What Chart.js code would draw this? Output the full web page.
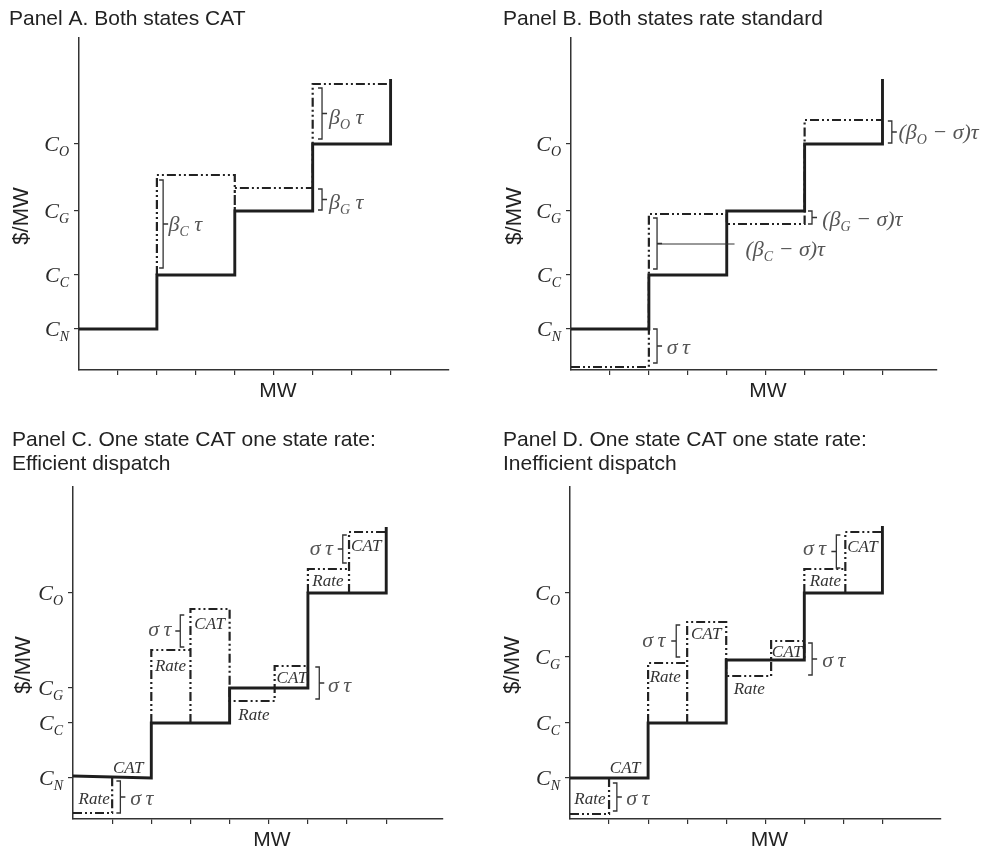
<!DOCTYPE html>
<html>
<head>
<meta charset="utf-8">
<script src="https://cdn.jsdelivr.net/npm/chart.js@4.4.1/dist/chart.umd.min.js"></script>
<style>
  body { margin: 0; background: #fff; }
  canvas { position: absolute; }
</style>
</head>
<body>
<canvas id="panelA" width="494" height="420" style="left:0;top:0"></canvas>
<canvas id="panelB" width="494" height="420" style="left:494px;top:0"></canvas>
<canvas id="panelC" width="494" height="429" style="left:0;top:420px"></canvas>
<canvas id="panelD" width="494" height="429" style="left:494px;top:420px"></canvas>
<script>
// cost levels on the $/MW axis (schematic units), one per technology
var costNames = ['N', 'C', 'G', 'O'];
var costAB = [41, 95, 159, 226];
var costC = [41, 96, 131, 226];
var costD = [41, 96, 162, 226];
var mwTicks = [1, 2, 3, 4, 5, 6, 7, 8];

// Panel A: supply curve and CAT-shifted curve
var aSolidX = [0, 2, 2, 4, 4, 6, 6, 8, 8];
var aSolidY = [41, 41, 95, 95, 159, 159, 226, 226, 291];
var aCatX = [2, 2, 4, 4, 4, 6, 6, 8];
var aCatY = [95, 195, 195, 159, 182, 182, 286, 286];

// Panel B: supply curve and rate-standard curve
var bSolidX = [0, 2, 2, 4, 4, 6, 6, 8, 8];
var bSolidY = [41, 41, 95, 95, 159, 159, 226, 226, 291];
var bRateX = [0, 2, 2, 4, 4, 6, 6, 8];
var bRateY = [3, 3, 156, 156, 146, 146, 250, 250];

// Panel C: efficient dispatch
var cSolidX = [0, 2, 2, 4, 4, 6, 6, 8, 8];
var cSolidY = [43, 41, 96, 96, 131, 131, 226, 226, 292];
var cRate1X = [0, 1, 1], cRate1Y = [6, 6, 41];
var cRate2X = [2, 2, 3], cRate2Y = [96, 169, 169];
var cCat2X = [3, 3, 4, 4], cCat2Y = [96, 210, 210, 131];
var cRate3X = [4, 4, 5.15, 5.15, 6, 6], cRate3Y = [131, 118, 118, 153, 153, 131];
var cRate4X = [6, 6, 7.05], cRate4Y = [226, 250, 250];
var cCat4X = [7.05, 7.05, 8], cCat4Y = [226, 287, 287];

// Panel D: inefficient dispatch
var dSolidX = [0, 2, 2, 4, 4, 6, 6, 8, 8];
var dSolidY = [41, 41, 96, 96, 159, 159, 226, 226, 293];
var dRate1X = [0, 1, 1], dRate1Y = [5, 5, 41];
var dRate2X = [2, 2, 3], dRate2Y = [96, 156, 156];
var dCat2X = [3, 3, 4, 4], dCat2Y = [96, 197, 197, 159];
var dRate3X = [4, 4, 5.15, 5.15, 6, 6], dRate3Y = [159, 143, 143, 178, 178, 159];
var dRate4X = [6, 6, 7.05], dRate4Y = [226, 250, 250];
var dCat4X = [7.05, 7.05, 8], dCat4Y = [226, 287, 287];

// brackets: x, y from, y to, side of the small tick (1 right, -1 left)
var aBraces = [[2.16, 102, 190, 1], [6.24, 160, 181, 1], [6.24, 231, 282, 1]];
var bBraces = [[2.21, 7, 41, 1], [2.21, 101, 152, 1], [6.19, 146, 159, 1], [8.24, 227, 249, 1]];
var bLeaders = [[2.21, 4.2, 126]];
var cBraces = [[1.21, 6, 38, 1], [2.74, 172, 204, -1], [6.29, 120, 152, 1], [6.89, 256, 284, -1]];
var dBraces = [[1.2, 8, 36, 1], [2.72, 162, 194, -1], [6.2, 144, 176, 1], [6.82, 251, 284, -1]];

// math labels: text (_X = subscript), x, y, anchor side
var aMath = [['β_C τ', 2.3, 146, 'l'], ['β_G τ', 6.42, 168, 'l'], ['β_O τ', 6.42, 253, 'l']];
var bMath = [['σ\u2009τ', 2.46, 23, 'l'], ['(β_C − σ)τ', 4.48, 121, 'l'], ['(β_G − σ)τ', 6.45, 151, 'l'], ['(β_O − σ)τ', 8.41, 238, 'l']];
var cMath = [['σ\u2009τ', 1.46, 21, 'l'], ['σ\u2009τ', 2.51, 190, 'r'], ['σ\u2009τ', 6.51, 134, 'l'], ['σ\u2009τ', 6.64, 271, 'r']];
var dMath = [['σ\u2009τ', 1.44, 21, 'l'], ['σ\u2009τ', 2.44, 179, 'r'], ['σ\u2009τ', 6.46, 159, 'l'], ['σ\u2009τ', 6.56, 271, 'r']];

// word labels: text, x centre, y centre
var cWords = [['CAT', 1.41, 52], ['Rate', 0.54, 21], ['Rate', 2.49, 154], ['CAT', 3.49, 196],
  ['CAT', 5.59, 142], ['Rate', 4.62, 105], ['Rate', 6.51, 239], ['CAT', 7.49, 274]];
var dWords = [['CAT', 1.41, 52], ['Rate', 0.51, 21], ['Rate', 2.44, 143], ['CAT', 3.49, 186],
  ['CAT', 5.56, 168], ['Rate', 4.59, 131], ['Rate', 6.54, 239], ['CAT', 7.49, 273]];

Chart.defaults.font.family = '"Liberation Sans", Arial, sans-serif';

var SERIF = '"Liberation Serif", "DejaVu Serif", serif';

function pts(xs, ys) {
  return xs.map(function (x, i) { return { x: x, y: ys[i] }; });
}

function solidLine(xs, ys) {
  return { data: pts(xs, ys), borderColor: '#1e1e1e', borderWidth: 2.9, pointRadius: 0, clip: false,
    borderJoinStyle: 'miter', borderCapStyle: 'butt' };
}

function dashLine(xs, ys) {
  return { data: pts(xs, ys), borderColor: '#222', borderWidth: 2.2, pointRadius: 0, clip: false,
    borderDash: [9, 3, 2, 3, 2, 3], borderCapStyle: 'butt' };
}

// draws "β_C τ" style text, subscripts after "_"
function drawMath(ctx, str, x, y, align, size, color) {
  var parts = [];
  for (var i = 0; i < str.length; i++) {
    if (str[i] === '_') { parts.push({ t: str[i + 1], sub: true }); i++; }
    else if (parts.length && !parts[parts.length - 1].sub) parts[parts.length - 1].t += str[i];
    else parts.push({ t: str[i], sub: false });
  }
  var subSize = Math.round(size * 0.64);
  var w = 0;
  parts.forEach(function (p) {
    ctx.font = 'italic ' + (p.sub ? subSize : size) + 'px ' + SERIF;
    p.w = ctx.measureText(p.t).width;
    w += p.w;
  });
  var cx = align === 'r' ? x - w : (align === 'c' ? x - w / 2 : x);
  var base = y + size * 0.33;
  ctx.fillStyle = color;
  ctx.textAlign = 'left';
  ctx.textBaseline = 'alphabetic';
  parts.forEach(function (p) {
    ctx.font = 'italic ' + (p.sub ? subSize : size) + 'px ' + SERIF;
    ctx.fillText(p.t, cx, p.sub ? base + size * 0.2 : base);
    cx += p.w;
  });
}

function notes(cfg) {
  return {
    id: 'notes',
    afterDraw: function (chart) {
      var ctx = chart.ctx, xs = chart.scales.x, ys = chart.scales.y, area = chart.chartArea;
      ctx.save();
      // tick labels C_N ... C_O
      cfg.costs.forEach(function (v, i) {
        drawMath(ctx, 'C_' + costNames[i], area.left - 10, ys.getPixelForValue(v), 'r', 22, '#2a2a2a');
      });
      // axis titles
      ctx.fillStyle = '#222';
      ctx.font = '21px "Liberation Sans", Arial, sans-serif';
      ctx.textAlign = 'center';
      ctx.textBaseline = 'middle';
      ctx.fillText('MW', (area.left + area.right) / 2 + 14, area.bottom + 21);
      ctx.save();
      ctx.font = '22px "Liberation Sans", Arial, sans-serif';
      ctx.translate(cfg.yTitleX, (area.top + area.bottom) / 2 + 12);
      ctx.rotate(-Math.PI / 2);
      ctx.fillText('$/MW', 0, 0);
      ctx.restore();
      // brackets
      ctx.strokeStyle = '#333';
      ctx.lineWidth = 1.3;
      (cfg.braces || []).forEach(function (b) {
        var px = xs.getPixelForValue(b[0]);
        var p1 = ys.getPixelForValue(b[1]), p2 = ys.getPixelForValue(b[2]);
        var pm = (p1 + p2) / 2, d = b[3];
        ctx.beginPath();
        ctx.moveTo(px - d * 4, p1); ctx.lineTo(px, p1); ctx.lineTo(px, p2); ctx.lineTo(px - d * 4, p2);
        ctx.moveTo(px, pm); ctx.lineTo(px + d * 5, pm);
        ctx.stroke();
      });
      ctx.lineWidth = 1;
      (cfg.leaders || []).forEach(function (l) {
        var py = ys.getPixelForValue(l[2]);
        ctx.beginPath();
        ctx.moveTo(xs.getPixelForValue(l[0]), py);
        ctx.lineTo(xs.getPixelForValue(l[1]), py);
        ctx.stroke();
      });
      (cfg.math || []).forEach(function (m) {
        drawMath(ctx, m[0], xs.getPixelForValue(m[1]), ys.getPixelForValue(m[2]), m[3], 22, '#555');
      });
      (cfg.words || []).forEach(function (m) {
        drawMath(ctx, m[0], xs.getPixelForValue(m[1]), ys.getPixelForValue(m[2]), 'c', 17, '#333');
      });
      ctx.restore();
    }
  };
}

function makePanel(id, cfg) {
  var canvas = document.getElementById(id);
  return new Chart(canvas, {
    type: 'line',
    data: { datasets: cfg.datasets },
    options: {
      responsive: false,
      animation: false,
      events: [],
      devicePixelRatio: 1,
      layout: { padding: { left: cfg.padLeft, right: cfg.padRight, top: 0, bottom: 0 } },
      plugins: {
        legend: { display: false },
        tooltip: { enabled: false },
        title: {
          display: true,
          text: cfg.title,
          align: 'start',
          color: '#222',
          font: { size: 21, weight: 'normal', lineHeight: 24 / 21 },
          padding: cfg.titlePad
        }
      },
      scales: {
        x: {
          type: 'linear', min: 0, max: cfg.xMax,
          afterBuildTicks: function (s) { s.ticks = mwTicks.map(function (v) { return { value: v }; }); },
          afterFit: function (s) { s.height = cfg.xHeight; },
          ticks: { display: false },
          grid: { drawOnChartArea: false, drawTicks: true, tickLength: 5, color: '#333', lineWidth: 1.2 },
          border: { display: true, color: '#333', width: 1.5 }
        },
        y: {
          type: 'linear', min: 0, max: 332,
          afterBuildTicks: function (s) { s.ticks = cfg.costs.map(function (v) { return { value: v }; }); },
          afterFit: function (s) { s.width = cfg.yWidth; },
          ticks: { display: false },
          grid: { drawOnChartArea: false, drawTicks: true, tickLength: 5, color: '#333', lineWidth: 1.2 },
          border: { display: true, color: '#333', width: 1.5 }
        }
      }
    },
    plugins: [notes(cfg)]
  });
}

makePanel('panelA', {
  title: 'Panel A. Both states CAT',
  titlePad: { top: 7.5, bottom: 6.5 },
  padLeft: 9, yWidth: 70, padRight: 45, xHeight: 50, xMax: 9.5, yTitleX: 22,
  costs: costAB,
  datasets: [solidLine(aSolidX, aSolidY), dashLine(aCatX, aCatY)],
  braces: aBraces, math: aMath
});

makePanel('panelB', {
  title: 'Panel B. Both states rate standard',
  titlePad: { top: 7.5, bottom: 6.5 },
  padLeft: 9, yWidth: 68, padRight: 51, xHeight: 50, xMax: 9.4, yTitleX: 21,
  costs: costAB,
  datasets: [solidLine(bSolidX, bSolidY), dashLine(bRateX, bRateY)],
  braces: bBraces, leaders: bLeaders, math: bMath
});

makePanel('panelC', {
  title: ['Panel C. One state CAT one state rate:', 'Efficient dispatch'],
  titlePad: { top: 8, bottom: 11 },
  padLeft: 12, yWidth: 61, padRight: 51, xHeight: 30, xMax: 9.45, yTitleX: 24,
  costs: costC,
  datasets: [solidLine(cSolidX, cSolidY), dashLine(cRate1X, cRate1Y), dashLine(cRate2X, cRate2Y),
    dashLine(cCat2X, cCat2Y), dashLine(cRate3X, cRate3Y), dashLine(cRate4X, cRate4Y), dashLine(cCat4X, cCat4Y)],
  braces: cBraces, math: cMath, words: cWords
});

makePanel('panelD', {
  title: ['Panel D. One state CAT one state rate:', 'Inefficient dispatch'],
  titlePad: { top: 8, bottom: 11 },
  padLeft: 9, yWidth: 67, padRight: 47, xHeight: 30, xMax: 9.5, yTitleX: 19,
  costs: costD,
  datasets: [solidLine(dSolidX, dSolidY), dashLine(dRate1X, dRate1Y), dashLine(dRate2X, dRate2Y),
    dashLine(dCat2X, dCat2Y), dashLine(dRate3X, dRate3Y), dashLine(dRate4X, dRate4Y), dashLine(dCat4X, dCat4Y)],
  braces: dBraces, math: dMath, words: dWords
});
</script>
</body>
</html>
